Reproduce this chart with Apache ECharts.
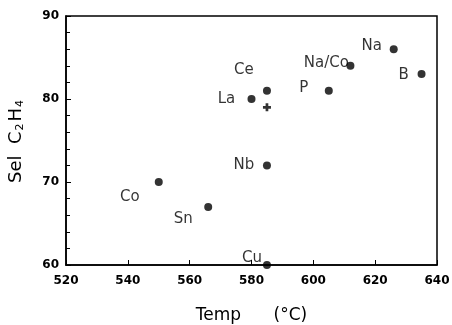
<!DOCTYPE html>
<html>
<head>
<meta charset="utf-8">
<script src="https://cdn.jsdelivr.net/npm/echarts@6/dist/echarts.min.js"></script>
<style>
  html, body { margin: 0; padding: 0; background: #fff; }
  #chart { width: 452px; height: 325px; }
</style>
</head>
<body>
<div id="chart"></div>
<script>
// catalysts: temperature (°C) vs C2H4 selectivity
const names = ["Co", "Sn", "Cu", "Nb", "La", "Ce", "P", "Na/Co", "Na", "B"];
const temps = [550, 566, 585, 585, 580, 585, 605, 612, 626, 635];
const sels = [70, 67, 60, 72, 80, 81, 81, 84, 86, 83];
const crossTemps = [585];
const crossSels = [79];

const xTicks = [520, 540, 560, 580, 600, 620, 640];
const yTicks = [60, 70, 80, 90];

// label offsets from the dot centre, in px
const labelOffsets = {
  "Co": [-29, 15],
  "Sn": [-25, 12],
  "Cu": [-15, -7],
  "Nb": [-23, 0],
  "La": [-25, 0],
  "Ce": [-23, -21],
  "P": [-25, -3],
  "Na/Co": [-24, -3],
  "Na": [-22, -3],
  "B": [-18, 1],
};

const chart = echarts.init(document.getElementById("chart"));

const dotData = names.map((name, i) => ({
  name: name,
  value: [temps[i], sels[i]],
  label: { offset: labelOffsets[name] },
}));

const crossData = crossTemps.map((t, i) => [t, crossSels[i]]);

const tickFont = {
  color: "#000",
  fontFamily: "DejaVu Sans",
  fontWeight: "bold",
  fontSize: 12,
};

chart.setOption({
  animation: false,
  backgroundColor: "#fff",
  grid: {
    left: 66,
    right: 15,
    top: 16,
    bottom: 60,
    outerBoundsMode: "none",
    containLabel: false,
    show: true,
    borderColor: "#000",
    borderWidth: 1.5,
    backgroundColor: "transparent",
  },
  xAxis: {
    type: "value",
    min: xTicks[0],
    max: xTicks[xTicks.length - 1],
    interval: 20,
    name: "Temp      (°C)",
    nameLocation: "middle",
    nameGap: 42,
    nameTextStyle: { color: "#000", fontFamily: "DejaVu Sans", fontSize: 17 },
    axisLine: { lineStyle: { color: "#000", width: 1.5 } },
    axisTick: { inside: true, length: 5, lineStyle: { color: "#000" } },
    axisLabel: Object.assign({ margin: 10 }, tickFont),
    splitLine: { show: false },
  },
  yAxis: {
    type: "value",
    min: yTicks[0],
    max: yTicks[yTicks.length - 1],
    interval: 10,
    name: "Sel  C{sub|2}H{sub|4}",
    nameLocation: "middle",
    nameGap: 40,
    nameRotate: 90,
    nameTextStyle: {
      color: "#000",
      fontFamily: "DejaVu Sans",
      fontSize: 18,
      rich: {
        sub: {
          fontFamily: "DejaVu Sans",
          fontSize: 11,
          color: "#000",
          verticalAlign: "bottom",
          padding: [9, 2, 0, 1],
        },
      },
    },
    axisLine: { lineStyle: { color: "#000", width: 1.5 } },
    axisTick: { inside: true, length: 5, lineStyle: { color: "#000" } },
    minorTick: { show: true, splitNumber: 5, length: 4, lineStyle: { color: "#000" } },
    axisLabel: Object.assign({ margin: 7 }, tickFont),
    splitLine: { show: false },
  },
  series: [
    {
      type: "scatter",
      clip: false,
      symbol: "circle",
      symbolSize: 8,
      itemStyle: { color: "#000" },
      label: {
        show: true,
        position: "inside",
        formatter: "{b}",
        color: "#000",
        fontFamily: "DejaVu Sans",
        fontSize: 15,
      },
      data: dotData,
    },
    {
      type: "scatter",
      clip: false,
      symbol: "path://M3.3,0H6.7V3.3H10V6.7H6.7V10H3.3V6.7H0V3.3H3.3Z",
      symbolSize: 8,
      itemStyle: { color: "#000" },
      data: crossData,
    },
  ],
});
</script>
</body>
</html>
